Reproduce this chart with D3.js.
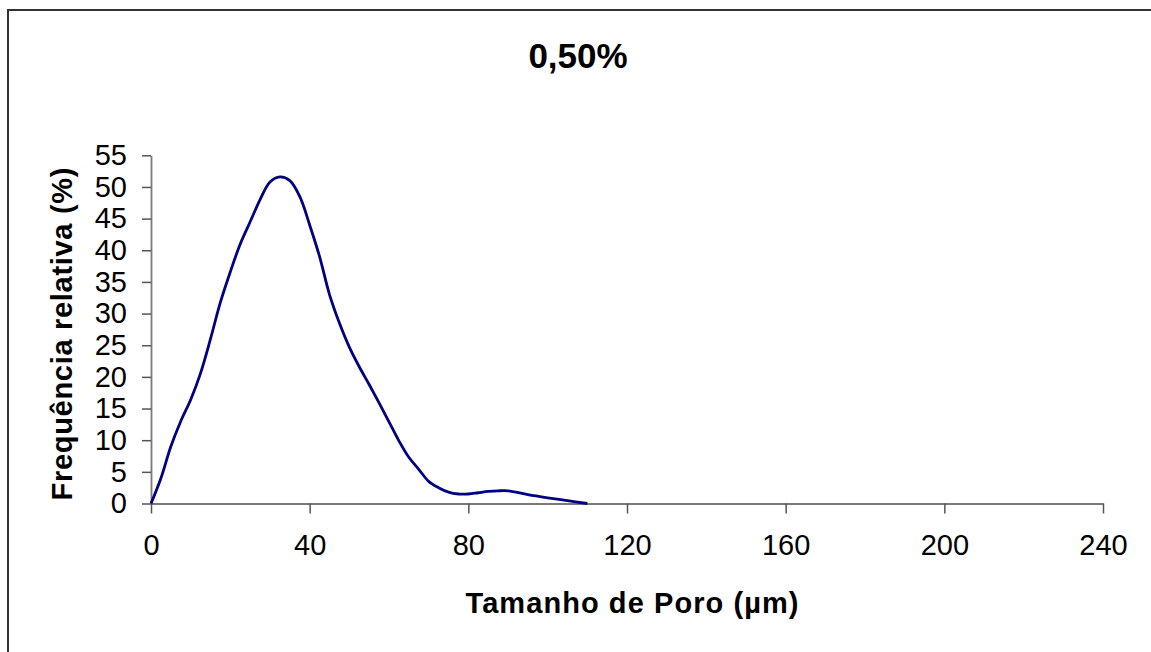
<!DOCTYPE html>
<html>
<head>
<meta charset="utf-8">
<script src="https://cdn.jsdelivr.net/npm/d3@7"></script>
<style>
  body { margin: 0; background: #fff; }
  text { font-family: "Liberation Sans", Arial, sans-serif; }
</style>
</head>
<body>
<div id="chart"></div>
<script>
// pore size (µm) and relative frequency (%)
var poreSize = [0, 2.5, 5, 7.5, 10, 12.5, 15, 17.5, 20, 22.5, 25, 27.5, 30, 32.5, 35, 37.5,
                40, 42.5, 45, 47.5, 50, 52.5, 55, 57.5, 60, 62.5, 65, 67.5, 70, 72.5, 75,
                77.5, 80, 82.5, 85, 87.5, 90, 95, 100, 105, 110];
var frequency = [0, 4, 9, 13, 16.4, 20.6, 26, 31.8, 36.6, 41, 44.5, 48, 50.8, 51.6, 51, 48.5,
                 44, 39, 33, 28.5, 24.7, 21.6, 18.8, 15.9, 12.9, 9.9, 7.3, 5.4, 3.5, 2.5, 1.8,
                 1.5, 1.5, 1.7, 1.9, 2, 2, 1.4, 0.9, 0.45, 0];
var xTicks = [0, 40, 80, 120, 160, 200, 240];
var yTicks = [0, 5, 10, 15, 20, 25, 30, 35, 40, 45, 50, 55];
var title = "0,50%";
var xTitle = "Tamanho de Poro (µm)";
var yTitle = "Frequência relativa (%)";

var width = 1151, height = 652;

var svg = d3.select('#chart').append('svg')
  .attr('width', width)
  .attr('height', height);

// outer chart frame (runs off right/bottom edge)
svg.append('rect')
  .attr('x', 8).attr('y', 10)
  .attr('width', 1160).attr('height', 660)
  .attr('fill', 'none')
  .attr('stroke', '#333')
  .attr('stroke-width', 2);

var x = d3.scaleLinear().domain([0, 240]).range([151, 1103]);
var y = d3.scaleLinear().domain([0, 55]).range([503.5, 155.3]);

// axes
var xAxis = svg.append('g')
  .attr('transform', 'translate(0,' + y(0) + ')')
  .call(d3.axisBottom(x).tickValues(xTicks).tickSize(10).tickPadding(21).tickSizeOuter(0));
var yAxis = svg.append('g')
  .attr('transform', 'translate(' + x(0) + ',0)')
  .call(d3.axisLeft(y).tickValues(yTicks).tickSize(9).tickPadding(15).tickSizeOuter(0));

[xAxis, yAxis].forEach(function(a) {
  a.select('.domain').attr('stroke', '#7a7a7a').attr('stroke-width', 1.8);
  a.selectAll('.tick line').attr('stroke', '#555').attr('stroke-width', 1.5);
  a.selectAll('.tick text')
    .attr('fill', '#000')
    .style('font-family', '"Liberation Sans", Arial, sans-serif')
    .style('font-size', '29px');
});

// curve
var line = d3.line()
  .x(function(d, i) { return x(poreSize[i]); })
  .y(function(d) { return y(d); })
  .curve(d3.curveCatmullRom.alpha(0.5));

svg.append('path')
  .datum(frequency)
  .attr('d', line)
  .attr('fill', 'none')
  .attr('stroke', '#000080')
  .attr('stroke-width', 2.8);

// titles
svg.append('text')
  .attr('x', 578).attr('y', 68)
  .attr('text-anchor', 'middle')
  .attr('font-size', 35).attr('font-weight', 'bold')
  .text(title);

svg.append('text')
  .attr('x', 632).attr('y', 613)
  .attr('text-anchor', 'middle')
  .attr('font-size', 29).attr('font-weight', 'bold')
  .attr('textLength', 333).attr('lengthAdjust', 'spacing')
  .text(xTitle);

svg.append('text')
  .attr('transform', 'translate(72,334) rotate(-90)')
  .attr('text-anchor', 'middle')
  .attr('font-size', 29).attr('font-weight', 'bold')
  .attr('textLength', 333).attr('lengthAdjust', 'spacing')
  .text(yTitle);
</script>
</body>
</html>
